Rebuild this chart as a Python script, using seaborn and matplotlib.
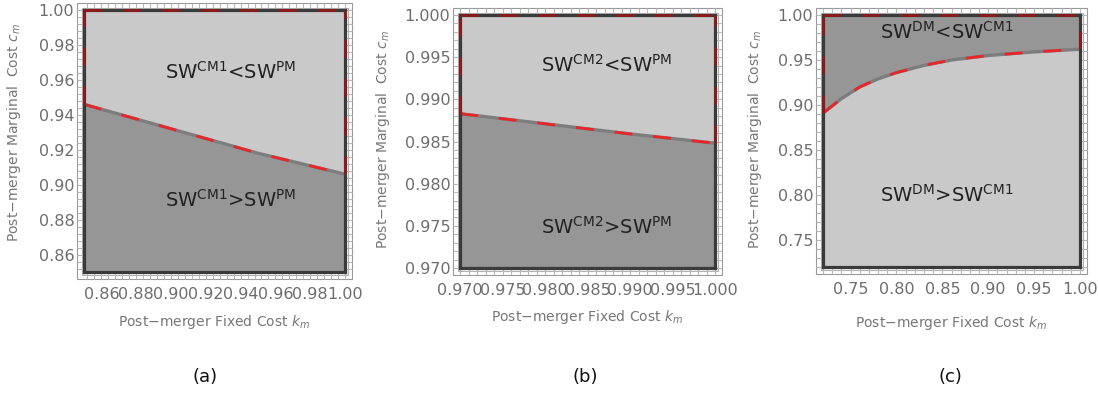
import matplotlib
matplotlib.use("Agg")
import matplotlib.pyplot as plt
from matplotlib.patches import Rectangle
from matplotlib.ticker import MultipleLocator, AutoMinorLocator, FormatStrFormatter
import seaborn as sns
import numpy as np

# ---------------- data ----------------
a_k = [0.85, 0.875, 0.90, 0.925, 0.95, 0.975, 1.00]
a_c = [0.946, 0.939, 0.932, 0.925, 0.918, 0.912, 0.906]
b_k = [0.970, 0.980, 0.990, 1.000]
b_c = [0.9883, 0.9871, 0.9859, 0.9848]
c_k = [0.72, 0.74, 0.76, 0.78, 0.80, 0.83, 0.86, 0.90, 0.95, 1.00]
c_c = [0.891, 0.907, 0.920, 0.929, 0.936, 0.944, 0.950, 0.955, 0.959, 0.962]

a_lim = (0.85, 1.00); a_step = 0.02; a_fmt = "%.2f"
b_lim = (0.970, 1.000); b_step = 0.005; b_fmt = "%.3f"
c_lim = (0.72, 1.00); c_step = 0.05; c_fmt = "%.2f"

a_upper = r"SW$^{\mathrm{CM1}}$<SW$^{\mathrm{PM}}$"
a_lower = r"SW$^{\mathrm{CM1}}$>SW$^{\mathrm{PM}}$"
b_upper = r"SW$^{\mathrm{CM2}}$<SW$^{\mathrm{PM}}$"
b_lower = r"SW$^{\mathrm{CM2}}$>SW$^{\mathrm{PM}}$"
c_upper = r"SW$^{\mathrm{DM}}$<SW$^{\mathrm{CM1}}$"
c_lower = r"SW$^{\mathrm{DM}}$>SW$^{\mathrm{CM1}}$"
captions = ["(a)", "(b)", "(c)"]
xlabel = r"Post$-$merger Fixed Cost $\mathit{k}_{\mathit{m}}$"
ylabel = r"Post$-$merger Marginal  Cost $\mathit{c}_{\mathit{m}}$"

LIGHT = "#c9c9c9"
DARK = "#969696"
RED = "#e8262a"
DRED = "#8b1a1a"
DASH = (0, (6.5, 7.5))

sns.set_style("white")
plt.rcParams["font.family"] = ["DejaVu Sans"]
plt.rcParams["mathtext.default"] = "regular"

fig = plt.figure(figsize=(10.98, 3.94), dpi=100)
W, H = 1098, 394

panels = [
    dict(k=a_k, c=a_c, lim=a_lim, step=a_step, fmt=a_fmt, box=(84, 10, 345, 272),
         upper_col=LIGHT, lower_col=DARK, up=a_upper, lo=a_lower,
         tx=0.56, ty_up=0.763, ty_lo=0.275, ylx=-0.27, yly=0.534, xly=-0.19, cap=(205, 377)),
    dict(k=b_k, c=b_c, lim=b_lim, step=b_step, fmt=b_fmt, box=(460, 15, 715, 268),
         upper_col=LIGHT, lower_col=DARK, up=b_upper, lo=b_lower,
         tx=0.576, ty_up=0.802, ty_lo=0.162, ylx=-0.30, yly=0.506, xly=-0.194, cap=(585, 377)),
    dict(k=c_k, c=c_c, lim=c_lim, step=c_step, fmt=c_fmt, box=(823, 15, 1080, 267),
         upper_col=DARK, lower_col=LIGHT, up=c_upper, lo=c_lower,
         tx=0.483, ty_up=0.933, ty_lo=0.286, ylx=-0.265, yly=0.504, xly=-0.222, cap=(950, 377)),
]

for i, p in enumerate(panels):
    x0, y0, x1, y1 = p["box"]
    ax = fig.add_axes([x0 / W, 1 - y1 / H, (x1 - x0) / W, (y1 - y0) / H])
    lo, hi = p["lim"]
    k = np.array(p["k"]); c = np.array(p["c"])
    ax.fill_between(k, c, hi, color=p["upper_col"], lw=0, zorder=1)
    ax.fill_between(k, lo, c, color=p["lower_col"], lw=0, zorder=1)
    sns.lineplot(x=p["k"], y=p["c"], ax=ax, color="#7d7d7d", lw=2.4, zorder=3)
    sns.lineplot(x=p["k"], y=p["c"], ax=ax, color=RED, lw=2.0,
                 linestyle=DASH, zorder=4)
    # region boundary along frame (top, upper left, upper right)
    ax.plot([lo, hi], [hi, hi], color=DRED, lw=2.0, linestyle=DASH,
            zorder=6, clip_on=False)
    ax.plot([lo, lo], [c[0], hi], color=DRED, lw=2.0, linestyle=DASH,
            zorder=6, clip_on=False)
    ax.plot([hi, hi], [c[-1], hi], color=DRED, lw=2.0, linestyle=DASH,
            zorder=6, clip_on=False)
    ax.set_xlim(lo, hi); ax.set_ylim(lo, hi)
    for axis in (ax.xaxis, ax.yaxis):
        axis.set_major_locator(MultipleLocator(p["step"]))
        axis.set_major_formatter(FormatStrFormatter(p["fmt"]))
        axis.set_minor_locator(AutoMinorLocator(5))
    ax.tick_params(which="both", direction="out", length=5, width=0.8,
                   color="#b8b8b8", top=True, right=True, bottom=True, left=True,
                   labelsize=11.5, labelcolor="#6e6e6e")
    ax.tick_params(axis="x", which="major", pad=6)
    ax.tick_params(axis="y", which="major", pad=2)
    for s in ax.spines.values():
        s.set_linewidth(2.3); s.set_color("#3a3a3a"); s.set_zorder(5)
    # outer frame lines
    wpx = x1 - x0; hpx = y1 - y0
    for off, col in ((7, "#9a9a9a"), (2.5, "#b0b0b0")):
        dx = off / wpx; dy = off / hpx
        ax.add_patch(Rectangle((-dx, -dy), 1 + 2 * dx, 1 + 2 * dy, transform=ax.transAxes,
                               fill=False, edgecolor=col, lw=0.8, clip_on=False, zorder=0))
    ax.text(p["tx"], p["ty_up"], p["up"], transform=ax.transAxes, ha="center",
            va="center", fontsize=14, color="#222222", zorder=7)
    ax.text(p["tx"], p["ty_lo"], p["lo"], transform=ax.transAxes, ha="center",
            va="center", fontsize=14, color="#222222", zorder=7)
    ax.text(0.5, p["xly"], xlabel, transform=ax.transAxes, ha="center", va="center",
            fontsize=10, color="#777777")
    ax.text(p["ylx"], p["yly"], ylabel, transform=ax.transAxes, ha="center", va="center",
            rotation=90, fontsize=10, color="#777777")
    fig.text(p["cap"][0] / W, 1 - p["cap"][1] / H, captions[i],
             ha="center", va="center", fontsize=13, color="#111111")

fig.savefig("out.png", dpi=100, facecolor="white")
